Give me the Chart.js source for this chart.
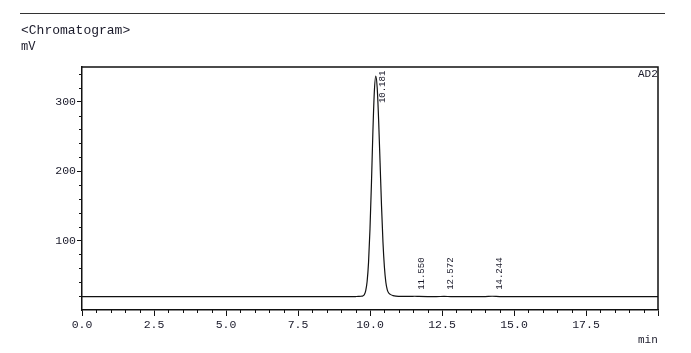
<!DOCTYPE html>
<html>
<head>
<meta charset="utf-8">
<script src="https://cdn.jsdelivr.net/npm/chart.js@4/dist/chart.umd.min.js"></script>
<style>
  html, body { margin: 0; padding: 0; background: #fff; }
  #wrap { position: relative; width: 691px; height: 353px; overflow: hidden; }
  #c { position: absolute; left: 0; top: 0; }
  .t { position: absolute; font-family: "Liberation Mono", "DejaVu Sans Mono", monospace; color: #1a1a2a; white-space: pre; line-height: 1; }
  #rule { position: absolute; left: 20px; top: 13px; width: 645px; height: 0; border-top: 1.4px solid #333; }
</style>
</head>
<body>
<div id="wrap">
  <canvas id="c" width="691" height="353"></canvas>
  <div id="rule"></div>
  <div class="t" id="title" style="left:21px; top:24px; font-size:13px;">&lt;Chromatogram&gt;</div>
  <div class="t" id="unit" style="left:21px; top:41px; font-size:12px;">mV</div>
  <div class="t" id="xunit" style="left:638px; top:335px; font-size:11px;">min</div>
  <div class="t" id="chan" style="left:638px; top:69px; font-size:11px;">AD2</div>
</div>
<script>
// ---- data ----
const times = [0, 0.5, 1, 1.5, 2, 2.5, 3, 3.5, 4, 4.5, 5, 5.5, 6, 6.5, 7, 7.5, 8, 8.5, 9, 9.3, 9.5, 9.6, 9.7, 9.75, 9.8, 9.85, 9.9, 9.95, 10.0, 10.05, 10.1, 10.15, 10.2, 10.25, 10.3, 10.35, 10.4, 10.45, 10.5, 10.55, 10.6, 10.65, 10.7, 10.8, 10.9, 11.0, 11.2, 11.4, 11.55, 11.7, 12.0, 12.3, 12.57, 12.8, 13.2, 13.6, 14.0, 14.24, 14.5, 15, 15.5, 16, 16.5, 17, 17.5, 18, 18.5, 19, 19.5, 20];
const signal = [19.4, 19.3, 19.3, 19.3, 19.4, 19.3, 19.3, 19.3, 19.4, 19.3, 19.3, 19.3, 19.4, 19.3, 19.3, 19.3, 19.3, 19.3, 19.3, 19.3, 19.4, 19.5, 19.8, 20.3, 22, 27.5, 41, 69, 117, 182, 256, 314, 337, 320, 273, 212, 150, 98, 62, 40, 29, 24.5, 22.5, 20.8, 20, 19.7, 19.5, 19.5, 19.8, 19.5, 19.3, 19.3, 19.6, 19.3, 19.2, 19.3, 19.4, 19.8, 19.4, 19.3, 19.3, 19.4, 19.3, 19.3, 19.4, 19.3, 19.3, 19.4, 19.3, 19.3];

const peakTimes = [10.181, 11.550, 12.572, 14.244];
const peakLabels = ["10.181", "11.550", "12.572", "14.244"];
const peakLabelBase = [298, 29, 29, 29];   // signal value where each rotated label starts

const xMajorTicks = [0, 2.5, 5, 7.5, 10, 12.5, 15, 17.5, 20];
const xTickLabels = ["0.0", "2.5", "5.0", "7.5", "10.0", "12.5", "15.0", "17.5", ""];
const yMajorTicks = [100, 200, 300];
const yTickLabels = ["100", "200", "300"];
const xMinorStep = 0.5;
const yMinorStep = 20;

const FONT = '"Liberation Mono", "DejaVu Sans Mono", monospace';
const INK = '#111';

const points = times.map((t, i) => ({ x: t, y: signal[i] }));

const framePlugin = {
  id: 'frame',
  afterDraw(chart) {
    const { ctx, chartArea: a, scales: { x, y } } = chart;
    ctx.save();
    ctx.strokeStyle = INK;
    ctx.lineWidth = 1.5;
    ctx.beginPath();
    ctx.moveTo(a.left, a.top);
    ctx.lineTo(a.right, a.top);
    ctx.lineTo(a.right, a.bottom);
    ctx.stroke();
    ctx.lineWidth = 1;
    ctx.beginPath();
    for (let v = x.min; v <= x.max + 1e-9; v += xMinorStep) {
      if (xMajorTicks.some(m => Math.abs(m - v) < 1e-6)) continue;
      const px = Math.round(x.getPixelForValue(v)) + 0.5;
      ctx.moveTo(px, a.bottom);
      ctx.lineTo(px, a.bottom + 3);
    }
    for (let v = y.min; v <= y.max + 1e-9; v += yMinorStep) {
      if (v === 0 || yMajorTicks.some(m => Math.abs(m - v) < 1e-6)) continue;
      const py = Math.round(y.getPixelForValue(v)) + 0.5;
      ctx.moveTo(a.left - 3, py);
      ctx.lineTo(a.left, py);
    }
    ctx.stroke();
    ctx.fillStyle = '#1a1a2a';
    ctx.font = '9px ' + FONT;
    ctx.textAlign = 'left';
    ctx.textBaseline = 'middle';
    peakTimes.forEach((t, i) => {
      const px = x.getPixelForValue(t) + 7;
      const py = y.getPixelForValue(peakLabelBase[i]);
      ctx.save();
      ctx.translate(px, py);
      ctx.rotate(-Math.PI / 2);
      ctx.fillText(peakLabels[i], 0, 0);
      ctx.restore();
    });
    ctx.restore();
  }
};

new Chart(document.getElementById('c'), {
  type: 'line',
  data: {
    datasets: [{
      data: points,
      borderColor: INK,
      borderWidth: 1.2,
      pointRadius: 0,
      fill: false,
      cubicInterpolationMode: 'monotone'
    }]
  },
  options: {
    responsive: false,
    animation: false,
    layout: { padding: { top: 67, right: 33, left: 0, bottom: 0 } },
    plugins: { legend: { display: false }, tooltip: { enabled: false } },
    scales: {
      x: {
        type: 'linear',
        min: 0, max: 20,
        afterBuildTicks: s => { s.ticks = xMajorTicks.map(v => ({ value: v })); },
        afterFit: s => { s.height = 43; },
        grid: { drawOnChartArea: false, drawTicks: true, tickLength: 6, color: INK, lineWidth: 1 },
        border: { display: true, color: INK, width: 1.5 },
        ticks: {
          autoSkip: false, maxRotation: 0, padding: 2,
          color: '#1a1a2a',
          font: { family: FONT, size: 11.5 },
          callback: (v) => { const i = xMajorTicks.indexOf(v); return i >= 0 ? xTickLabels[i] : ''; }
        }
      },
      y: {
        type: 'linear',
        min: 0, max: 350,
        afterBuildTicks: s => { s.ticks = yMajorTicks.map(v => ({ value: v })); },
        afterFit: s => { s.width = 82; },
        grid: { drawOnChartArea: false, drawTicks: true, tickLength: 5, color: INK, lineWidth: 1 },
        border: { display: true, color: INK, width: 1.5 },
        ticks: {
          autoSkip: false, padding: 1,
          color: '#1a1a2a',
          font: { family: FONT, size: 11.5 },
          callback: (v) => { const i = yMajorTicks.indexOf(v); return i >= 0 ? yTickLabels[i] : ''; }
        }
      }
    }
  },
  plugins: [framePlugin]
});
</script>
</body>
</html>
